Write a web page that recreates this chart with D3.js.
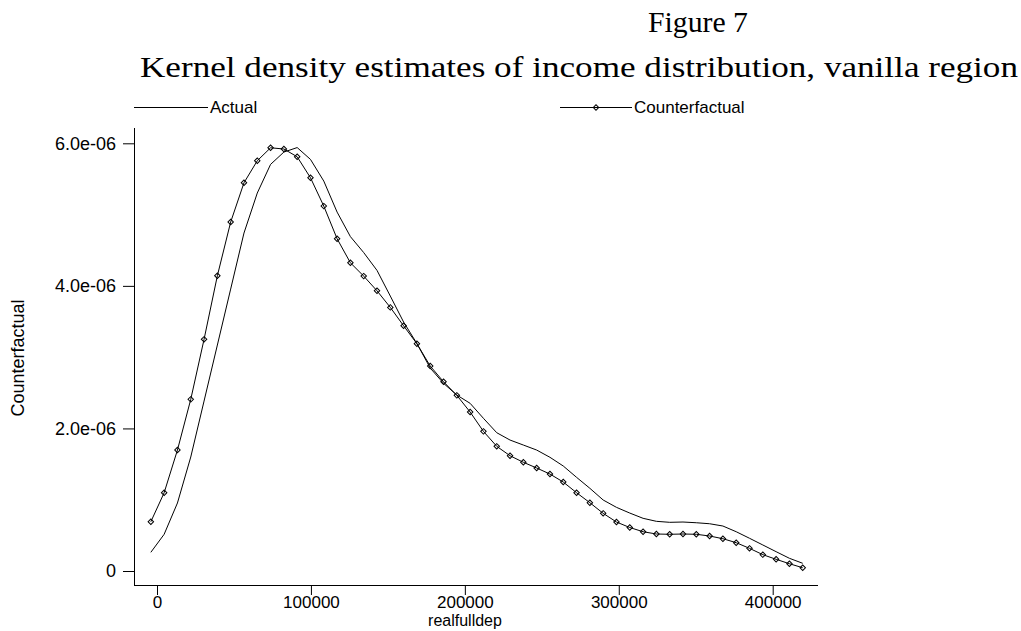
<html lang="en">
<head>
<style>
  body { margin: 0; background: #fff; }
  text { fill: #000; }
</style>
</head>
<body>
</body>
<script type='text/javascript' src='https://d3js.org/d3.v7.min.js'></script>
<script>
var width = 1021, height = 631;

// evaluation grid (realfulldep)
const gridX = [-4000, 4643, 13286, 21929, 30572, 39215, 47858, 56501, 65144, 73787,
  82430, 91073, 99716, 108359, 117002, 125645, 134288, 142931, 151574, 160217,
  168860, 177503, 186146, 194789, 203432, 212075, 220718, 229361, 238004, 246647,
  255290, 263933, 272576, 281219, 289862, 298505, 307148, 315791, 324434, 333077,
  341720, 350363, 359006, 367649, 376292, 384935, 393578, 402221, 410864, 419507];

// densities, in units of 1e-06
const actual = [0.262, 0.515, 0.954, 1.599, 2.384, 3.170, 3.955, 4.741, 5.302, 5.704,
  5.877, 5.940, 5.774, 5.470, 5.035, 4.691, 4.467, 4.217, 3.857, 3.492,
  3.191, 2.847, 2.633, 2.468, 2.352, 2.142, 1.940, 1.837, 1.767, 1.697,
  1.595, 1.473, 1.314, 1.160, 0.996, 0.893, 0.813, 0.739, 0.697, 0.683,
  0.687, 0.677, 0.663, 0.631, 0.551, 0.459, 0.365, 0.271, 0.178, 0.108];

const counterfactual = [0.691, 1.098, 1.697, 2.408, 3.250, 4.142, 4.895, 5.446, 5.755, 5.937,
  5.920, 5.811, 5.516, 5.119, 4.661, 4.324, 4.137, 3.931, 3.698, 3.440,
  3.188, 2.875, 2.655, 2.464, 2.230, 1.959, 1.749, 1.617, 1.525, 1.445,
  1.360, 1.248, 1.098, 0.958, 0.809, 0.687, 0.610, 0.551, 0.519, 0.515,
  0.519, 0.515, 0.491, 0.453, 0.397, 0.318, 0.229, 0.164, 0.102, 0.046];

const xTicks = [0, 100000, 200000, 300000, 400000];
const yTicks = [0, 2e-6, 4e-6, 6e-6];
const UNIT = 1e-6;

var svg = d3.select('body').append('svg')
  .attr('width', width).attr('height', height)
  .style('font-family', '"Liberation Sans", Arial, sans-serif');

svg.append('rect').attr('width', width).attr('height', height).attr('fill', '#fff');

var x = d3.scaleLinear().domain([0, 400000]).range([157, 772.7]);
var y = d3.scaleLinear().domain([0, 6e-6]).range([571, 143.3]);

// titles
svg.append('text')
  .attr('x', 648).attr('y', 32)
  .attr('textLength', 100).attr('lengthAdjust', 'spacingAndGlyphs')
  .style('font-family', '"Liberation Serif", "DejaVu Serif", serif')
  .style('font-size', '30px')
  .text('Figure 7');
svg.append('text')
  .attr('x', 140).attr('y', 77)
  .attr('textLength', 878).attr('lengthAdjust', 'spacingAndGlyphs')
  .style('font-family', '"Liberation Serif", "DejaVu Serif", serif')
  .style('font-size', '30px')
  .text('Kernel density estimates of income distribution, vanilla region');

// x axis
var xAxis = svg.append('g')
  .attr('transform', 'translate(0,585)')
  .call(d3.axisBottom(x).tickValues(xTicks).tickSize(10).tickPadding(1).tickFormat(d3.format('d')));
xAxis.select('.domain').remove();
xAxis.selectAll('line').attr('stroke', '#000');
xAxis.selectAll('text').style('font-size', '17px').style('font-family', '"Liberation Sans", Arial, sans-serif');
svg.append('line').attr('x1', 134).attr('x2', 818).attr('y1', 585.5).attr('y2', 585.5)
  .attr('stroke', '#000');

// y axis
var yAxis = svg.append('g')
  .attr('transform', 'translate(134,0)')
  .call(d3.axisLeft(y).tickValues(yTicks).tickSize(11).tickPadding(7)
    .tickFormat(function(d) {
      return d === 0 ? '0' : d.toExponential(1).replace(/e-(\d)$/, 'e-0$1');
    }));
yAxis.select('.domain').remove();
yAxis.selectAll('line').attr('stroke', '#000');
yAxis.selectAll('text').style('font-size', '18px').style('font-family', '"Liberation Sans", Arial, sans-serif');
svg.append('line').attr('x1', 134.5).attr('x2', 134.5).attr('y1', 128).attr('y2', 586)
  .attr('stroke', '#000');

// axis titles
svg.append('text')
  .attr('x', 465).attr('y', 626)
  .attr('text-anchor', 'middle')
  .style('font-size', '16px')
  .text('realfulldep');
svg.append('text')
  .attr('transform', 'translate(24,358) rotate(-90)')
  .attr('text-anchor', 'middle')
  .style('font-size', '18px')
  .text('Counterfactual');

// lines
var line = d3.line()
  .x(function(d, i) { return x(gridX[i]); })
  .y(function(d) { return y(d * UNIT); });

svg.append('path').datum(actual)
  .attr('d', line).attr('fill', 'none').attr('stroke', '#000').attr('stroke-width', 1);
svg.append('path').datum(counterfactual)
  .attr('d', line).attr('fill', 'none').attr('stroke', '#000').attr('stroke-width', 1);

var diamond = d3.symbol().type(d3.symbolSquare).size(15);
svg.append('g').selectAll('path')
  .data(counterfactual)
  .join('path')
  .attr('d', diamond)
  .attr('transform', function(d, i) {
    return 'translate(' + x(gridX[i]) + ',' + y(d * UNIT) + ') rotate(45)';
  })
  .attr('fill', 'none').attr('stroke', '#000').attr('stroke-width', 1);

// legend
var leg = svg.append('g').style('font-size', '17px');
leg.append('line').attr('x1', 134).attr('x2', 208).attr('y1', 107.5).attr('y2', 107.5).attr('stroke', '#000');
leg.append('text').attr('x', 210).attr('y', 113).text('Actual');
leg.append('line').attr('x1', 560).attr('x2', 632).attr('y1', 107.5).attr('y2', 107.5).attr('stroke', '#000');
leg.append('path').attr('d', diamond).attr('transform', 'translate(596,107.5) rotate(45)')
  .attr('fill', 'none').attr('stroke', '#000');
leg.append('text').attr('x', 634).attr('y', 113).text('Counterfactual');

console.log('ready..');
</script>
</html>
